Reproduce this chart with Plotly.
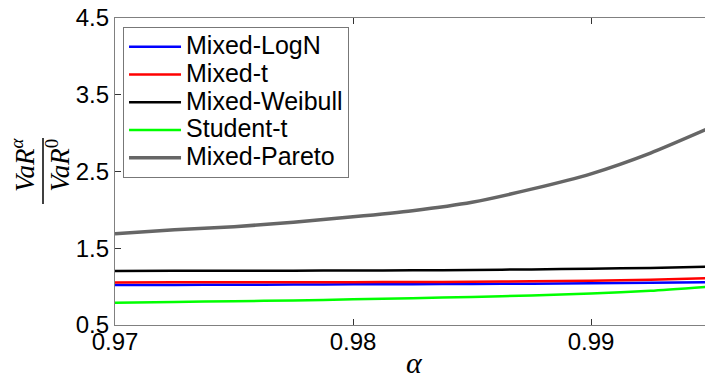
import plotly.graph_objects as go

# Confidence levels (alpha) and VaR ratios relative to VaR at level 0
alpha = [0.97, 0.9725, 0.975, 0.9775, 0.98, 0.9825, 0.985, 0.9875, 0.99, 0.9925, 0.995]

mixed_logn = [1.020, 1.022, 1.025, 1.027, 1.030, 1.032, 1.035, 1.039, 1.044, 1.050, 1.057]
mixed_t = [1.055, 1.056, 1.056, 1.057, 1.058, 1.060, 1.064, 1.070, 1.078, 1.090, 1.110]
mixed_weibull = [1.205, 1.206, 1.207, 1.208, 1.210, 1.212, 1.218, 1.224, 1.233, 1.244, 1.260]
student_t = [0.790, 0.800, 0.810, 0.820, 0.835, 0.850, 0.865, 0.885, 0.910, 0.945, 1.000]
mixed_pareto = [1.69, 1.74, 1.78, 1.84, 1.91, 1.99, 2.10, 2.27, 2.47, 2.74, 3.07]

series = [
    ("Mixed-LogN", mixed_logn, "#0000ff", 2.5),
    ("Mixed-t", mixed_t, "#ff0000", 2.5),
    ("Mixed-Weibull", mixed_weibull, "#000000", 2.5),
    ("Student-t", student_t, "#00ff00", 2.5),
    ("Mixed-Pareto", mixed_pareto, "#666666", 3.5),
]

x_ticks = [0.97, 0.98, 0.99]
x_tick_text = ["0.97", "0.98", "0.99"]
y_ticks = [0.5, 1.5, 2.5, 3.5, 4.5]
y_tick_text = ["0.5", "1.5", "2.5", "3.5", "4.5"]

SANS = "Liberation Sans, Arial, sans-serif"
SERIF = "Liberation Serif, Times New Roman, serif"

fig = go.Figure()
for name, vals, color, width in series:
    fig.add_trace(go.Scatter(
        x=alpha, y=vals, mode="lines",
        name='<span style="font-size:25px">%s</span>' % name,
        line=dict(color=color, width=width, shape="spline", smoothing=0.6),
    ))

axis_common = dict(
    showgrid=False, zeroline=False,
    showline=True, linecolor="#808080", linewidth=1.3,
    ticks="inside", ticklen=6, tickwidth=1, tickcolor="#333333",
    tickfont=dict(family=SANS, size=24, color="#000000"),
)

fig.update_layout(
    width=705, height=377,
    margin=dict(l=115, r=0, t=18, b=52),
    paper_bgcolor="white", plot_bgcolor="white",
    xaxis=dict(range=[0.97, 0.99479], tickvals=x_ticks, ticktext=x_tick_text,
               mirror="ticks", ticklabelstandoff=-5, **axis_common),
    yaxis=dict(range=[0.5, 4.5], tickvals=y_ticks, ticktext=y_tick_text,
               mirror=False, **axis_common),
    showlegend=True,
    legend=dict(
        x=0.0136, y=0.9707, xanchor="left", yanchor="top",
        bgcolor="white", bordercolor="#777777", borderwidth=1,
        font=dict(family=SANS, size=19, color="#000000"),
        itemwidth=52, tracegroupgap=0,
    ),
)

# x-axis title: italic serif alpha
fig.add_annotation(
    text="<i>α</i>", xref="paper", yref="paper",
    x=(414 - 115) / 590, y=(325 - 362) / 307,
    xanchor="center", yanchor="middle",
    showarrow=False, font=dict(family=SERIF, size=30, color="#000000"),
)
# y-axis title: VaR^alpha over VaR^0, written as a rotated stacked fraction
fig.add_annotation(
    text="<i>VaR</i><sup><i>α</i></sup><br><i>VaR</i><sup>0</sup>",
    xref="paper", yref="paper",
    x=(40 - 115) / 590, y=(325 - 165) / 307,
    xanchor="center", yanchor="middle",
    textangle=-90, showarrow=False,
    font=dict(family=SERIF, size=27, color="#000000"),
)
fig.add_shape(
    type="line", xref="paper", yref="paper",
    x0=(43 - 115) / 590, x1=(43 - 115) / 590,
    y0=(325 - 204) / 307, y1=(325 - 138) / 307,
    line=dict(color="#000000", width=1.5),
)

fig.write_html("out.html")
